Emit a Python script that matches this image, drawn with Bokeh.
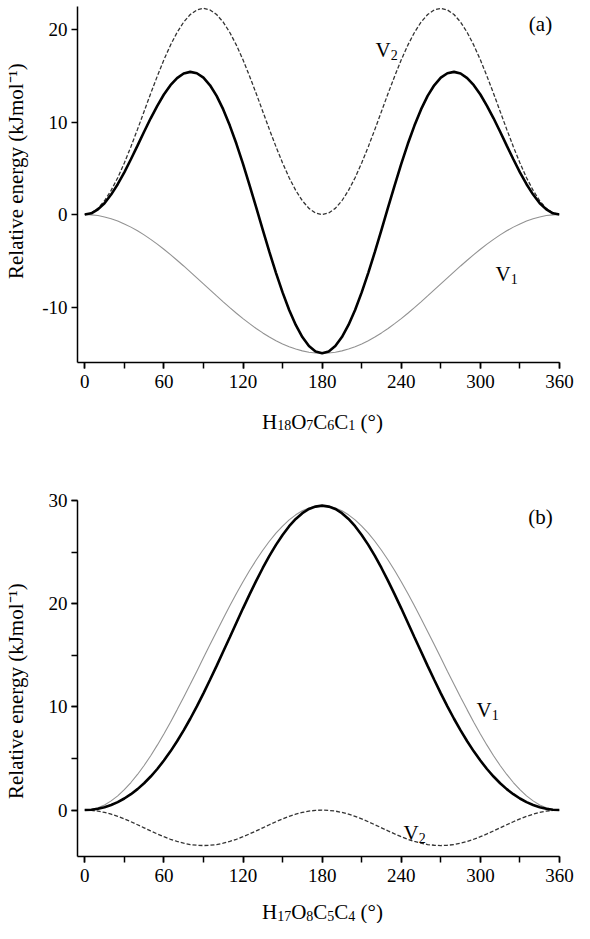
import math
from bokeh.plotting import figure
from bokeh.models import Label, SingleIntervalTicker, PrintfTickFormatter, Range1d
from bokeh.layouts import column, row
from bokeh.embed import file_html
from bokeh.resources import INLINE

# ---------------- data ----------------
angle_deg = list(range(0, 365, 5))

# panel (a): H18O7C6C1 torsion
a_total = [0, 0.14, 0.56, 1.23, 2.16, 3.28, 4.57, 5.98, 7.45, 8.95, 10.41, 11.76, 12.98, 13.99,
           14.75, 15.25, 15.43, 15.28, 14.80, 13.98, 12.83, 11.37, 9.62, 7.65, 5.48, 3.16, 0.77,
           -1.65, -4.04, -6.30, -8.42, -10.32, -11.94, -13.25, -14.22, -14.80, -15.00,
           -14.80, -14.22, -13.25, -11.94, -10.32, -8.42, -6.30, -4.04, -1.65, 0.77, 3.16, 5.48,
           7.65, 9.62, 11.37, 12.83, 13.98, 14.80, 15.28, 15.43, 15.25, 14.75, 13.99, 12.98,
           11.76, 10.41, 8.95, 7.45, 5.98, 4.57, 3.28, 2.16, 1.23, 0.56, 0.14, 0]
a_v1 = [0, -0.03, -0.11, -0.26, -0.45, -0.70, -1.01, -1.36, -1.76, -2.20, -2.68, -3.20, -3.75,
        -4.33, -4.94, -5.56, -6.20, -6.85, -7.50, -8.15, -8.80, -9.44, -10.07, -10.67, -11.25,
        -11.80, -12.32, -12.80, -13.25, -13.64, -14.00, -14.30, -14.55, -14.74, -14.89, -14.97,
        -15.00,
        -14.97, -14.89, -14.74, -14.55, -14.30, -14.00, -13.64, -13.25, -12.80, -12.32, -11.80,
        -11.25, -10.67, -10.07, -9.44, -8.80, -8.15, -7.50, -6.85, -6.20, -5.56, -4.94, -4.33,
        -3.75, -3.20, -2.68, -2.20, -1.76, -1.36, -1.01, -0.70, -0.45, -0.26, -0.11, -0.03, 0]
a_v2 = [0, 0.17, 0.67, 1.49, 2.61, 3.98, 5.58, 7.34, 9.21, 11.15, 13.09, 14.96, 16.73, 18.32,
        19.69, 20.81, 21.63, 22.13, 22.30, 22.13, 21.63, 20.81, 19.69, 18.32, 16.73, 14.96,
        13.09, 11.15, 9.21, 7.34, 5.58, 3.98, 2.61, 1.49, 0.67, 0.17, 0,
        0.17, 0.67, 1.49, 2.61, 3.98, 5.58, 7.34, 9.21, 11.15, 13.09, 14.96, 16.73, 18.32,
        19.69, 20.81, 21.63, 22.13, 22.30, 22.13, 21.63, 20.81, 19.69, 18.32, 16.73, 14.96,
        13.09, 11.15, 9.21, 7.34, 5.58, 3.98, 2.61, 1.49, 0.67, 0.17, 0]

# panel (b): H17O8C5C4 torsion
b_total = [0, 0.03, 0.12, 0.27, 0.49, 0.77, 1.12, 1.54, 2.03, 2.60, 3.25, 3.98, 4.80, 5.69,
           6.67, 7.72, 8.85, 10.05, 11.31, 12.63, 13.97, 15.36, 16.75, 18.15, 19.55, 20.90,
           22.21, 23.46, 24.63, 25.70, 26.66, 27.51, 28.21, 28.77, 29.18, 29.41, 29.50,
           29.41, 29.18, 28.77, 28.21, 27.51, 26.66, 25.70, 24.63, 23.46, 22.21, 20.90, 19.55,
           18.15, 16.75, 15.36, 13.97, 12.63, 11.31, 10.05, 8.85, 7.72, 6.67, 5.69, 4.80, 3.98,
           3.25, 2.60, 2.03, 1.54, 1.12, 0.77, 0.49, 0.27, 0.12, 0.03, 0]
b_v1 = [0, 0.06, 0.22, 0.50, 0.89, 1.38, 1.98, 2.67, 3.45, 4.32, 5.27, 6.29, 7.38, 8.52, 9.71,
        10.93, 12.19, 13.46, 14.75, 16.04, 17.31, 18.57, 19.79, 20.98, 22.13, 23.21, 24.23,
        25.18, 26.05, 26.83, 27.52, 28.12, 28.61, 29.00, 29.28, 29.44, 29.50,
        29.44, 29.28, 29.00, 28.61, 28.12, 27.52, 26.83, 26.05, 25.18, 24.23, 23.21, 22.13,
        20.98, 19.79, 18.57, 17.31, 16.04, 14.75, 13.46, 12.19, 10.93, 9.71, 8.52, 7.38, 6.29,
        5.27, 4.32, 3.45, 2.67, 1.98, 1.38, 0.89, 0.50, 0.22, 0.06, 0]
b_v2 = [0, -0.03, -0.10, -0.23, -0.40, -0.61, -0.86, -1.13, -1.42, -1.72, -2.02, -2.31, -2.58,
        -2.83, -3.04, -3.21, -3.34, -3.41, -3.44, -3.41, -3.34, -3.21, -3.04, -2.83, -2.58,
        -2.31, -2.02, -1.72, -1.42, -1.13, -0.86, -0.61, -0.40, -0.23, -0.10, -0.03, 0,
        -0.03, -0.10, -0.23, -0.40, -0.61, -0.86, -1.13, -1.42, -1.72, -2.02, -2.31, -2.58,
        -2.83, -3.04, -3.21, -3.34, -3.41, -3.44, -3.41, -3.34, -3.21, -3.04, -2.83, -2.58,
        -2.31, -2.02, -1.72, -1.42, -1.13, -0.86, -0.61, -0.40, -0.23, -0.10, -0.03, 0]

x_tick_interval = 60
y_tick_interval = 10
panel_tags = ["(a)", "(b)"]
x_title_a = [("H", "18"), ("O", "7"), ("C", "6"), ("C", "1")]
x_title_b = [("H", "17"), ("O", "8"), ("C", "5"), ("C", "4")]
y_title_text = "Relative energy (kJmol\u207b\u00b9)"

for s in (a_total, a_v1, a_v2, b_total, b_v1, b_v2):
    assert len(s) == len(angle_deg)

# ---------------- styling / geometry (canvas px; page = canvas + 8) ----------------
FONT = "Liberation Serif"
W = 574
H_TOTAL = 923
YT_W = 30                      # width of the strip holding the y titles
GEOM = {
    "a": dict(x0=-5.5, x1=360, y0=-16, y1=22.5, fl=77, fr=559, ft=6, fb=362, h=398, off=0),
    "b": dict(x0=-5.5, x1=360, y0=-4.5, y1=30, fl=77, fr=559, ft=500, fb=856, h=452, off=438),
}

ADV = {"H": 0.722, "O": 0.722, "C": 0.667, "V": 0.722, "(": 0.333, ")": 0.333,
       "°": 0.4, " ": 0.25}
for d in "0123456789":
    ADV[d] = 0.5
MID = 0.3375   # em distance from the baseline to the middle of the text box


def tw(s, size):
    return sum(ADV.get(c, 0.5) for c in s) * size


def dx(g, px):
    return g["x0"] + (px - 8 - g["fl"]) / (g["fr"] - g["fl"]) * (g["x1"] - g["x0"])


def dy(g, py):
    return g["y1"] - (py - 8 - g["ft"]) / (g["fb"] - g["ft"]) * (g["y1"] - g["y0"])


def label(p, x, y, text, size, align="left", baseline="alphabetic", angle=0.0):
    p.add_layout(Label(x=x, y=y, text=text, text_font=FONT, text_font_size=f"{size}px",
                       text_align=align, text_baseline=baseline, angle=angle,
                       text_color="black"))


def make_panel(key, total, v1, v2, minor_y):
    g = GEOM[key]
    top = g["ft"] - g["off"]
    fh = g["fb"] - g["ft"]
    p = figure(width=W - YT_W, height=g["h"], x_range=(g["x0"], g["x1"]),
               y_range=(g["y0"], g["y1"]), output_backend="svg", toolbar_location=None,
               min_border_left=g["fl"] - YT_W, min_border_right=W - g["fr"],
               min_border_top=top, min_border_bottom=g["h"] - top - fh)
    p.title = None
    p.outline_line_color = None
    p.grid.visible = False
    p.background_fill_color = "white"
    p.border_fill_color = "white"

    p.line(angle_deg, v1, line_color="#929292", line_width=1.1)
    p.line(angle_deg, v2, line_color="#333333", line_width=1.3, line_dash="4 2")
    p.line(angle_deg, total, line_color="black", line_width=2.6)

    p.xaxis.ticker = SingleIntervalTicker(interval=x_tick_interval, num_minor_ticks=2)
    p.yaxis.ticker = SingleIntervalTicker(interval=y_tick_interval,
                                          num_minor_ticks=2 if minor_y else 0)
    p.yaxis.formatter = PrintfTickFormatter(format="%d")
    for ax in (p.xaxis[0], p.yaxis[0]):
        ax.axis_line_width = 1.5
        ax.axis_line_color = "black"
        ax.major_tick_line_width = 1.5
        ax.minor_tick_line_width = 1.5
        ax.major_tick_line_color = "black"
        ax.minor_tick_line_color = "black" if (ax is p.xaxis[0] or minor_y) else None
        ax.major_tick_out = 6
        ax.major_tick_in = 0
        ax.minor_tick_out = 6
        ax.minor_tick_in = 0
        ax.major_label_text_font = FONT
        ax.major_label_text_font_size = "19px"
        ax.major_label_text_color = "black"
    p.xaxis.major_label_standoff = 6
    p.yaxis.major_label_standoff = 4
    return p


def strip(w, h):
    s = figure(width=w, height=h, x_range=Range1d(0, w), y_range=Range1d(h, 0),
               x_axis_location=None, y_axis_location=None, min_border=0,
               output_backend="svg", toolbar_location=None)
    s.title = None
    s.outline_line_color = None
    s.grid.visible = False
    s.background_fill_color = "white"
    s.border_fill_color = "white"
    return s


pa = make_panel("a", a_total, a_v1, a_v2, minor_y=False)
pb = make_panel("b", b_total, b_v1, b_v2, minor_y=True)
ga, gb = GEOM["a"], GEOM["b"]

# strips for the axis titles (own frames, so nothing is clipped)
ya = strip(YT_W, ga["h"])
yb = strip(YT_W, gb["h"])
xa_top = ga["off"] + ga["h"]
xb_top = gb["off"] + gb["h"]
xa = strip(W, gb["off"] - xa_top)
xb = strip(W, H_TOTAL - xb_top)


def x_title(s, origin_y, parts, base_y_page):
    x = 269.5 - 8
    by = base_y_page - 8 - origin_y
    for big, sub in parts:
        label(s, x, by, big, 21)
        x += tw(big, 21)
        label(s, x, by + 3.5, sub, 14)
        x += tw(sub, 14)
    x += tw(" ", 21)
    label(s, x, by, "(°)", 21)


def y_title(s, origin_y, center_y_page):
    # one rotated text, anchored at its centre (reads bottom to top)
    bx = 30.5 - 8                      # baseline, canvas x
    label(s, bx - MID * 21, center_y_page - 8 - origin_y, y_title_text, 21,
          "center", "middle", math.pi / 2)


def v_label(p, g, px, py, sub):
    label(p, dx(g, px), dy(g, py), "V", 21)
    label(p, dx(g, px + tw("V", 21)), dy(g, py + 5), sub, 14)


# panel (a) texts
label(pa, dx(ga, 548), dy(ga, 31), panel_tags[0], 21, align="center", baseline="middle")
v_label(pa, ga, 383, 57, "2")
v_label(pa, ga, 503, 281, "1")
x_title(xa, xa_top, x_title_a, 429)
y_title(ya, ga["off"], (ga["ft"] + ga["fb"]) / 2 + 8)

# panel (b) texts
label(pb, dx(gb, 548), dy(gb, 524), panel_tags[1], 21, align="center", baseline="middle")
v_label(pb, gb, 484, 717, "1")
v_label(pb, gb, 411, 840, "2")
x_title(xb, xb_top, x_title_b, 919.5)
y_title(yb, gb["off"], (gb["ft"] + gb["fb"]) / 2 + 10)

layout = column(row(ya, pa, spacing=0), xa, row(yb, pb, spacing=0), xb, spacing=0)
open("out.html", "w").write(file_html(layout, INLINE))
